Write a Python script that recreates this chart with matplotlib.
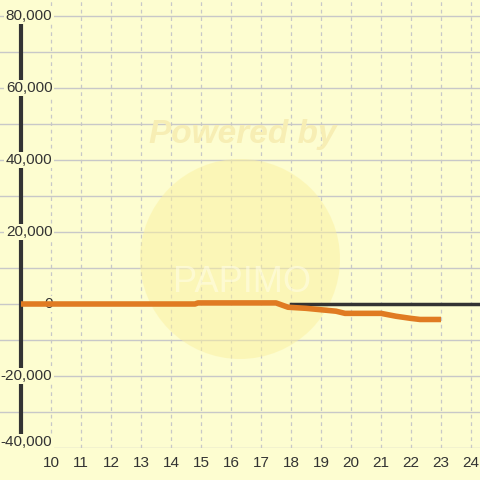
import matplotlib
matplotlib.use("Agg")
import matplotlib.pyplot as plt
from matplotlib.patches import Circle
import numpy as np

plt.rcParams['font.family'] = ['Liberation Sans', 'DejaVu Sans']

# data (hour, value)
hours = [9.0, 14.8, 14.9, 17.5, 17.9, 18.5, 19.0, 19.5, 19.8, 21.0, 21.5, 22.0, 22.3, 23.0]
values = [0, 0, 300, 300, -900, -1200, -1600, -2000, -2600, -2600, -3400, -4000, -4300, -4300]

x_ticks = list(range(10, 25))
y_labels = [80000, 60000, 40000, 20000, 0, -20000, -40000]
y_grid = list(range(-40000, 80001, 10000))

bg = "#fdfdd0"
H = 480
fig = plt.figure(figsize=(4.8, 4.8), dpi=100, facecolor=bg)
ax = fig.add_axes([0, 32 / 480, 1, 448 / 480])
ax.set_facecolor(bg)

x0 = (0 - 51) / 30 + 10
x1 = (480 - 51) / 30 + 10
ax.set_xlim(x0, x1)
ax.set_ylim(-40000, 80000 + 16 / 3.6 * 1000)
for s in ax.spines.values():
    s.set_visible(False)
ax.set_xticks([])
ax.set_yticks([])

# grid
for x in x_ticks:
    ax.axvline(x, color="#c8c8c8", lw=0.9, ls=(0, (3, 3)), zorder=1)
for y in y_grid:
    ax.axhline(y, color="#c8c8c8", lw=1, zorder=1)

# watermark (pixel coords from top-left)
ax.add_patch(Circle((240, H - 259), 100, transform=None, facecolor="#fbf0a0",
                    edgecolor="none", alpha=0.5, zorder=1.5))
ax.text(243, H - 134, "Powered by", transform=None, fontsize=24, fontweight="bold",
        fontstyle="italic", color="#f7eeb4", ha="center", va="center", zorder=1.6)
ax.text(242, H - 282, "PAPIMO", transform=None, fontsize=26, color="#fffde4",
        ha="center", va="center", zorder=1.6, alpha=0.6)

# axis line and zero line
ax.plot([9.0, 9.0], [-37800, 77800], color="#333333", lw=3, zorder=3,
        solid_capstyle="butt")
ax.plot([18.0, x1], [0, 0], color="#333333", lw=2.5, zorder=3)

# y labels (bottom one nudged up to stay inside)
for v in y_labels:
    ypos = v + 1700 if v == y_labels[-1] else v
    ax.text(10.05, ypos, f"{v:,}", ha="right", va="center",
            fontsize=11, color="#333333", zorder=4,
            bbox=dict(facecolor=bg, edgecolor="none", pad=1.0))

# series
ax.plot(hours, values, color="#e07b22", lw=4, zorder=5, solid_capstyle="butt")

# x labels
for x in x_ticks:
    ax.text(x, -40000 - 15 / 3.6 * 1000, str(x), ha="center", va="center",
            fontsize=11, color="#333333", zorder=5, clip_on=False)

fig.savefig("out.png", dpi=100, facecolor=bg)
